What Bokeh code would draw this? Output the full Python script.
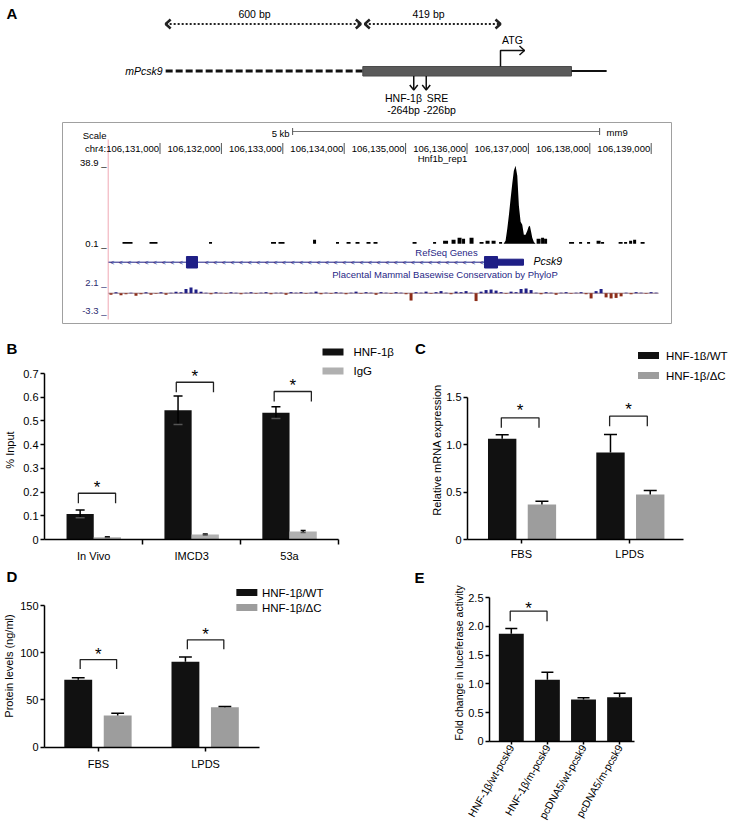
import math
from bokeh.plotting import figure
from bokeh.layouts import column, row
from bokeh.models import Range1d, FixedTicker
from bokeh.core.properties import value
from bokeh.embed import file_html
from bokeh.resources import INLINE

SANS = "Liberation Sans"
NAVY = "#1f1f86"

# ===================== DATA =====================
# Panel A - promoter schematic (bp relative to ATG)
seg_bp = [600, 419]
seg_text = ["600 bp", "419 bp"]
site_name = ["HNF-1β", "SRE"]
site_bp = [-264, -226]
site_text = ["-264bp", "-226bp"]
exon_end_bp = 216
tail_end_bp = 323

# Panel A - UCSC browser, chr4 (mm9)
coord_ticks = [106131000, 106132000, 106133000, 106134000, 106135000,
               106136000, 106137000, 106138000, 106139000]
scale_end = 106138160
scale_kb = 5
chip_axis = [38.9, 0.1]
cons_axis = [2.1, -3.3]
chip_pos = [106136596, 106136628, 106136656, 106136685, 106136710, 106136737,
            106136763, 106136791, 106136819, 106136845, 106136873, 106136900,
            106136926, 106136954, 106136982, 106137003, 106137024, 106137044,
            106137063, 106137089, 106137117]
chip_val = [0.1, 1.5, 7.2, 14.4, 21.5, 28.6, 34.8, 37.2, 32.4, 18.2, 10.6, 9.1,
            4.4, 4.4, 6.3, 8.2, 8.7, 5.8, 3.0, 1.0, 0.1]
blip_pos = [106130471, 106130894, 106131823, 106132849, 106132979, 106133517,
            106133891, 106134071, 106134217, 106134396, 106134510, 106135146,
            106135472, 106135651, 106135781, 106135879, 106135944, 106136074,
            106136237, 106136335, 106136433, 106136547, 106137166, 106137231,
            106137280, 106137703, 106137850, 106137980, 106138143, 106138208,
            106138502, 106138583, 106138665, 106138730, 106138860]
blip_w = [163, 130, 49, 81, 98, 49, 49, 65, 65, 65, 65, 65, 49, 81, 65, 65, 49,
          65, 65, 65, 65, 49, 65, 49, 49, 81, 49, 49, 65, 49, 65, 49, 49, 49, 65]
blip_val = [1.0, 1.0, 1.0, 1.0, 1.0, 2.0, 1.0, 1.0, 1.0, 1.0, 1.0, 1.0, 1.0, 1.5,
            2.0, 3.0, 2.5, 3.0, 1.0, 1.5, 1.5, 1.0, 2.5, 3.0, 2.5, 1.0, 1.0, 1.0,
            1.5, 1.0, 1.0, 1.0, 1.5, 2.0, 1.0]
gene_start = 106130161
exon_start = [106131431, 106136285]
exon_end = [106131611, 106136497]
utr5 = [106136497, 106136920]
cons_start = 106130161
cons_bin = 81.45
cons_val = [-0.3, 0.2, -0.4, -0.2, 0.1, -0.5, -0.2, 0.2, -0.3, -0.1, 0.2, -0.3, 0.1, 0.3, 0.2,
            0.8, 1.1, 0.7,
            0.3, 0.1, -0.2, 0.2, 0.1, -0.1, 0.2, 0.1, -0.2, 0.1, 0.2, -0.1, 0.1, 0.2, -0.2, 0.1,
            0.1, -0.3, 0.2, 0.1,
            0.2, -0.1, 0.1, 0.3, -0.2, 0.1, -0.1, 0.2, 0.1, -0.2, 0.1, 0.3, -0.1, 0.2, 0.1,
            -0.3, 0.2, 0.1, -0.1, 0.2, 0.1, -0.2,
            -1.4,
            0.2, 0.1, 0.3, -0.1, 0.2, 0.4, 0.1, -0.2, 0.3, 0.2, 0.4, 0.1,
            -1.5,
            0.3, 0.6, 0.7, 0.5,
            0.2, -0.1, 0.3, 0.2,
            0.8, 0.9, 0.6,
            0.1, -0.2, 0.2, 0.1, -0.3, 0.1, 0.2, -0.1, 0.1, 0.2, -0.2,
            -1.0,
            0.4, 0.8,
            -0.8, -1.0, -0.9, -0.6,
            0.1, -0.2, 0.2, 0.1, -0.1, 0.2, 0.1]

# Panel B - ChIP (% input)
B_groups = ["In Vivo", "IMCD3", "53a"]
B_hnf = [0.108, 0.545, 0.535]
B_hnf_err = [0.016, 0.060, 0.025]
B_igg = [0.010, 0.021, 0.034]
B_igg_err = [0.002, 0.002, 0.004]
B_sig_y = [0.195, 0.663, 0.624]
B_yticks = [0, 0.1, 0.2, 0.3, 0.4, 0.5, 0.6, 0.7]
B_ylabels = ["0", "0.1", "0.2", "0.3", "0.4", "0.5", "0.6", "0.7"]
B_series = ["HNF-1β", "IgG"]

# Panel C - relative mRNA
C_groups = ["FBS", "LPDS"]
C_wt = [1.061, 0.917]
C_wt_err = [0.042, 0.190]
C_dc = [0.369, 0.474]
C_dc_err = [0.035, 0.042]
C_sig_y = [1.283, 1.300]
C_yticks = [0, 0.5, 1.0, 1.5]
C_ylabels = ["0", "0.5", "1.0", "1.5"]
series_wt_dc = ["HNF-1β/WT", "HNF-1β/ΔC"]

# Panel D - protein levels
D_groups = ["FBS", "LPDS"]
D_wt = [71.4, 90.4]
D_wt_err = [2.0, 5.0]
D_dc = [33.6, 42.4]
D_dc_err = [2.4, 0.8]
D_sig_y = [92.8, 113.7]
D_yticks = [0, 50, 100, 150]
D_ylabels = ["0", "50", "100", "150"]

# Panel E - luciferase
E_groups = ["HNF-1β/wt-pcsk9", "HNF-1β/m-pcsk9", "pcDNA5/wt-pcsk9", "pcDNA5/m-pcsk9"]
E_val = [1.873, 1.071, 0.727, 0.767]
E_err = [0.09, 0.13, 0.03, 0.07]
E_sig_pair = [0, 1]
E_sig_y = 2.266
E_yticks = [0, 0.5, 1.0, 1.5, 2.0, 2.5]
E_ylabels = ["0", "0.5", "1.0", "1.5", "2.0", "2.5"]

BLACK = "#111111"
GRAY_B = "#b0b0b0"
GRAY = "#9d9d9d"


# ===================== helpers =====================
def rng(p1, v1, p2, v2, lo, hi):
    k = (p2 - p1) / (v2 - v1)
    return Range1d(start=v1 + (lo - p1) / k, end=v1 + (hi - p1) / k)


class Map:
    def __init__(self, f0, f1, a, pa, b, pb):
        self.k = (pb - pa) / (b - a)
        self.a, self.pa = a, pa
        self.lo, self.hi = self.v(f0), self.v(f1)

    def v(self, px):
        return self.a + (px - self.pa) / self.k

    def d(self, dpx):
        return dpx / abs(self.k)


def txt(p, xs, ys, texts, size, font=SANS, color="black", align="center",
        baseline="middle", style="normal", **kw):
    p.text(x=xs, y=ys, text=texts, text_font=value(font), text_font_size=value(size),
           text_color=color, text_align=align, text_baseline=baseline,
           text_font_style=value(style), **kw)


def legend(p, x_sw, x_lab, ys, colors, labels, size="11.5px"):
    p.rect(x=[x_sw] * len(ys), y=ys, width=21, height=7, width_units="screen",
           height_units="screen", fill_color=colors, line_color=None)
    txt(p, [x_lab] * len(ys), ys, labels, size, align="left")


def canvas_fig(x0, x1, y0, y1):
    p = figure(width=x1 - x0, height=y1 - y0, x_range=Range1d(x0, x1),
               y_range=Range1d(y1, y0), x_axis_type=None, y_axis_type=None,
               toolbar_location=None, output_backend="svg", min_border=0)
    p.outline_line_color = None
    return p


# ===================== PANEL A (plus top strip of B/C) =====================
W = 731
H_A = 360
pA = canvas_fig(0, W, 0, H_A)
BP_K = 0.3286
BP0 = 500
pA.extra_x_ranges = {
    "bp": rng(BP0, 0, BP0 - BP_K * 1000, -1000, 0, W),
    "g": rng(159.5, coord_ticks[0], 159.5 + 61.4, coord_ticks[1], 0, W),
}
pA.extra_y_ranges = {
    "chip": rng(243.3, chip_axis[1], 161.7, chip_axis[0], H_A, 0),
    "cons": rng(281.7, cons_axis[0], 310.0, cons_axis[1], H_A, 0),
}


def bpx(bp):
    return BP0 + BP_K * bp


txt(pA, [11.5], [12.5], ["A"], "15px", style="bold")

a0 = -(seg_bp[0] + seg_bp[1])
a1 = -seg_bp[1]
a2 = 0
gap = 2 / BP_K
ARW_Y = 23.5
arrow_spans = [(a0, a1 - gap), (a1 + gap, a2)]
pA.multi_line(xs=[[s, e] for s, e in arrow_spans], ys=[[ARW_Y, ARW_Y]] * 2, x_range_name="bp",
              line_width=2, line_dash="2 2", line_color="#222222")
heads_x, heads_y = [], []
for s, e in arrow_spans:
    xs_, xe_ = bpx(s), bpx(e)
    heads_x += [[xs_ + 5, xs_, xs_ + 5], [xe_ - 5, xe_, xe_ - 5]]
    heads_y += [[ARW_Y - 4.5, ARW_Y, ARW_Y + 4.5]] * 2
pA.multi_line(xs=heads_x, ys=heads_y, line_width=2.5, line_color="#222222")
txt(pA, [254, 428], [13, 13], seg_text, "10.5px")

GY = 70.5
pA.line(x=[a0, a1], y=[GY, GY], x_range_name="bp", line_width=3,
        line_dash="7 3", line_color="#111111")
pA.quad(left=[a1], right=[exon_end_bp], top=[66], bottom=[75.5], x_range_name="bp",
        fill_color="#5a5a5a", line_color="#4a4a4a")
pA.line(x=[exon_end_bp, tail_end_bp], y=[GY, GY], x_range_name="bp",
        line_width=2, line_color="#111111")
atg = bpx(0)
pA.line(x=[atg, atg, atg + 24], y=[66, 50, 50], line_width=1.5, line_color="#111111")
pA.line(x=[atg + 19, atg + 24, atg + 19], y=[45.5, 50, 54.5], line_width=1.5,
        line_color="#111111")
txt(pA, [512], [39], ["ATG"], "10.5px")
txt(pA, [162], [GY], ["mPcsk9"], "10.5px", align="right", style="italic")
sx = [bpx(s) for s in site_bp]
pA.segment(x0=sx, y0=[75.5] * 2, x1=sx, y1=[89.5] * 2, line_width=1.5, line_color="#111111")
pA.multi_line(xs=[[x - 4, x, x + 4] for x in sx], ys=[[84.5, 89.5, 84.5]] * 2,
              line_width=1.5, line_color="#111111")
txt(pA, [403, 437], [97, 97], site_name, "10.5px")
txt(pA, [403, 439], [109, 109], site_text, "10.5px")

pA.quad(left=[62], right=[671], top=[122], bottom=[323], fill_color=None,
        line_color="#a0a0a0", line_width=1)
pA.segment(x0=[107.7], y0=[139], x1=[107.7], y1=[319], line_color="#f0a8b4", line_width=1)
txt(pA, [106], [135], ["Scale"], "9.5px", align="right")
sb0 = scale_end - scale_kb * 1000
pA.segment(x0=[sb0], y0=[131], x1=[scale_end], y1=[131], x_range_name="g",
           line_color="#777777", line_width=1)
pA.segment(x0=[sb0, scale_end], y0=[127.5, 127.5], x1=[sb0, scale_end], y1=[134.5, 134.5],
           x_range_name="g", line_color="#555555", line_width=1)
txt(pA, [sb0], [132.5], [f"{scale_kb} kb"], "9.5px", align="right", x_range_name="g", x_offset=-3)
txt(pA, [scale_end], [131.5], ["mm9"], "9.5px", align="left", x_range_name="g", x_offset=7)
coord_text = ["chr4:" + f"{coord_ticks[0]:,}"] + [f"{t:,}" for t in coord_ticks[1:]]
txt(pA, coord_ticks, [148] * len(coord_ticks), coord_text, "9.5px", align="right",
    x_range_name="g", x_offset=-1)
pA.segment(x0=coord_ticks, y0=[142.5] * 9, x1=coord_ticks, y1=[153.5] * 9,
           x_range_name="g", line_color="#555555", line_width=1)
txt(pA, [106, 106], chip_axis, [f"{v} _" for v in chip_axis], "9.5px", align="right",
    baseline="alphabetic", y_range_name="chip")
txt(pA, [106, 106], cons_axis, [f"{v} _" for v in cons_axis], "9.5px", align="right",
    baseline="alphabetic", y_range_name="cons", color="#2c2c70")
txt(pA, [442], [158], ["Hnf1b_rep1"], "9.5px")

pA.varea(x=chip_pos, y1=[chip_axis[1]] * len(chip_pos), y2=chip_val, x_range_name="g",
         y_range_name="chip", fill_color="black")
pA.vbar(x=blip_pos, width=blip_w, top=blip_val, bottom=chip_axis[1], x_range_name="g",
        y_range_name="chip", fill_color="black", line_color=None)

txt(pA, [446], [252], ["RefSeq Genes"], "9.5px", color=NAVY)
pA.line(x=[gene_start, exon_start[1]], y=[261.7, 261.7], x_range_name="g",
        line_color=NAVY, line_width=1)
chev = [c for c in range(gene_start + 60, exon_start[1] - 40, 140)
        if not (exon_start[0] - 40 < c < exon_end[0] + 40)]
txt(pA, chev, [261.7] * len(chev), ["<"] * len(chev), "7px", color=NAVY, x_range_name="g")
pA.quad(left=exon_start, right=exon_end, top=[256, 256], bottom=[267.5, 267.5],
        x_range_name="g", fill_color=NAVY, line_color=NAVY)
pA.quad(left=[utr5[0]], right=[utr5[1]], top=[258.7], bottom=[264.7],
        x_range_name="g", fill_color=NAVY, line_color=NAVY)
txt(pA, [533], [260.5], ["Pcsk9"], "10.5px", align="left", style="italic")

txt(pA, [444.5], [274], ["Placental Mammal Basewise Conservation by PhyloP"], "9.5px",
    color=NAVY)
cons_pos = [cons_start + cons_bin * (i + 0.5) for i in range(len(cons_val))]
cons_col = [NAVY if v >= 0 else "#8c2d19" for v in cons_val]
pA.line(x=[cons_start, cons_start + cons_bin * len(cons_val)], y=[0, 0], x_range_name="g",
        y_range_name="cons", line_color="#7b5a6a", line_width=0.8)
pA.vbar(x=cons_pos, width=cons_bin * 0.6, top=cons_val, bottom=0, x_range_name="g",
        y_range_name="cons", fill_color=cons_col, line_color=None)

txt(pA, [11.5, 420], [348, 348], ["B", "C"], "15px", style="bold")
legend(pA, 332.5, 353, [351.5], [BLACK], [B_series[0]])
legend(pA, 648, 665.5, [355], [BLACK], [series_wt_dc[0]])


# ===================== bar panels =====================
def bar_fig(width, height, mbl, mbb, xm, ym):
    p = figure(width=width, height=height, x_range=Range1d(xm.lo, xm.hi),
               y_range=Range1d(ym.lo, ym.hi), toolbar_location=None, output_backend="svg",
               min_border_left=mbl, min_border_right=0, min_border_top=0,
               min_border_bottom=mbb)
    p.outline_line_color = None
    p.grid.visible = False
    for ax in (p.xaxis[0], p.yaxis[0]):
        ax.axis_line_width = 1.5
        ax.axis_line_color = "black"
        ax.major_tick_line_width = 1.5
        ax.major_tick_line_color = "black"
        ax.major_tick_in = 0
        ax.major_tick_out = 4
        ax.minor_tick_line_color = None
        ax.major_label_text_font = SANS
        ax.major_label_text_font_size = "11px"
        ax.major_label_text_color = "black"
        ax.axis_label_text_font = SANS
        ax.axis_label_text_font_size = "11px"
        ax.axis_label_text_font_style = "normal"
        ax.axis_label_text_color = "black"
    p.yaxis[0].major_label_standoff = 2
    return p


def yaxis_setup(p, ticks, labels, title, standoff=2):
    ax = p.yaxis[0]
    ax.ticker = FixedTicker(ticks=ticks)
    ax.major_label_overrides = dict(zip(ticks, labels))
    ax.bounds = (ticks[0], ticks[-1])
    ax.axis_label = title
    ax.axis_label_standoff = standoff


def errbars(p, xm, xs, vals, errs, cap_px, both=False):
    lo = [v - e if both else v for v, e in zip(vals, errs)]
    hi = [v + e for v, e in zip(vals, errs)]
    p.segment(x0=xs, y0=lo, x1=xs, y1=hi, line_color="black", line_width=1.5)
    hw = xm.d(cap_px / 2)
    p.segment(x0=[x - hw for x in xs], y0=hi, x1=[x + hw for x in xs], y1=hi,
              line_color="black", line_width=1.5)
    if both:
        p.segment(x0=[x - hw for x in xs], y0=lo, x1=[x + hw for x in xs], y1=lo,
                  line_color="#555555", line_width=1.5)


def brackets(p, lefts, rights, ys, drop, star_gap):
    xs = [[l, l, r, r] for l, r in zip(lefts, rights)]
    yy = [[y - drop, y, y, y - drop] for y in ys]
    p.multi_line(xs=xs, ys=yy, line_color="#222222", line_width=1.3)
    txt(p, [(l + r) / 2 for l, r in zip(lefts, rights)], [y + star_gap for y in ys],
        ["*"] * len(ys), "17px", y_offset=4)


# ----- B -----
R2_TOP, R2_BOT = H_A, 565
bx = Map(44, 400, 0, 44.3, 3, 338)
by = Map(539, R2_TOP, 0, 539, 0.7, 373)
pB = bar_fig(400, R2_BOT - R2_TOP, 44, 26, bx, by)
Bc = [i + 0.5 for i in range(len(B_groups))]
pB.vbar(x=[c - 0.139 for c in Bc], width=0.278, top=B_hnf, fill_color=BLACK, line_color=None)
pB.vbar(x=[c + 0.139 for c in Bc], width=0.278, top=B_igg, fill_color=GRAY_B, line_color=None)
errbars(pB, bx, [c - 0.139 for c in Bc], B_hnf, B_hnf_err, 9, both=True)
errbars(pB, bx, [c + 0.139 for c in Bc], B_igg, B_igg_err, 5, both=True)
yaxis_setup(pB, B_yticks, B_ylabels, "% Input", 4)
xa = pB.xaxis[0]
xa.ticker = FixedTicker(ticks=Bc, minor_ticks=[1, 2, 3])
xa.major_label_overrides = dict(zip(Bc, B_groups))
xa.major_tick_out = 0
xa.minor_tick_line_color = "black"
xa.minor_tick_line_width = 1.5
xa.minor_tick_in = 0
xa.minor_tick_out = 5
xa.major_label_standoff = 5
xa.bounds = (0, len(B_groups))
brackets(pB, [c - 0.157 for c in Bc], [c + 0.223 for c in Bc], B_sig_y, by.d(10), by.d(10))
legend(pB, bx.v(332.5), bx.v(353), [by.v(370.5)], [GRAY_B], [B_series[1]])

# ----- C -----
cx = Map(467, 731, 0, 466.7, 2, 683.3)
cy = Map(539, R2_TOP, 0, 539, 1.5, 396.7)
pC = bar_fig(331, R2_BOT - R2_TOP, 67, 26, cx, cy)
Cc = [i + 0.5 for i in range(len(C_groups))]
pC.vbar(x=[c - 0.177 for c in Cc], width=0.262, top=C_wt, fill_color=BLACK, line_color=None)
pC.vbar(x=[c + 0.19 for c in Cc], width=0.262, top=C_dc, fill_color=GRAY, line_color=None)
errbars(pC, cx, [c - 0.177 for c in Cc], C_wt, C_wt_err, 13)
errbars(pC, cx, [c + 0.19 for c in Cc], C_dc, C_dc_err, 13)
yaxis_setup(pC, C_yticks, C_ylabels, "Relative mRNA expression", 0)
xa = pC.xaxis[0]
xa.ticker = FixedTicker(ticks=Cc)
xa.major_label_overrides = dict(zip(Cc, C_groups))
xa.major_label_standoff = 4
xa.bounds = (0, len(C_groups))
brackets(pC, [c - 0.185 for c in Cc], [c + 0.163 for c in Cc], C_sig_y, cy.d(10), cy.d(11))
legend(pC, cx.v(648), cx.v(665.5), [cy.v(375)], [GRAY], [series_wt_dc[1]])

# ----- full-width strip with panel letters D / E -----
R3_TOP, S_BOT, R3_BOT = 565, 584, 829
pS = canvas_fig(0, W, R3_TOP, S_BOT)
txt(pS, [11.5, 419], [576, 577], ["D", "E"], "15px", style="bold")

# ----- D -----
FBD = 747
dx = Map(39, 400, 0, 39.3, 2, 256.7)
dy = Map(FBD, S_BOT, 0, 746.7, 150, 605)
pD = bar_fig(400, R3_BOT - S_BOT, 39, R3_BOT - FBD, dx, dy)
Dc = [i + 0.5 for i in range(len(D_groups))]
pD.vbar(x=[c - 0.188 for c in Dc], width=0.26, top=D_wt, fill_color=BLACK, line_color=None)
pD.vbar(x=[c + 0.18 for c in Dc], width=0.26, top=D_dc, fill_color=GRAY, line_color=None)
errbars(pD, dx, [c - 0.188 for c in Dc], D_wt, D_wt_err, 13)
errbars(pD, dx, [c + 0.18 for c in Dc], D_dc, D_dc_err, 13)
yaxis_setup(pD, D_yticks, D_ylabels, "Protein levels (ng/ml)", 2)
xa = pD.xaxis[0]
xa.ticker = FixedTicker(ticks=Dc)
xa.major_label_overrides = dict(zip(Dc, D_groups))
xa.major_label_standoff = 6
xa.bounds = (0, len(D_groups))
brackets(pD, [c - 0.17 for c in Dc], [c + 0.17 for c in Dc], D_sig_y, dy.d(9.5), dy.d(9.5))
legend(pD, dx.v(244.2), dx.v(259.5), [dy.v(592), dy.v(607)], [BLACK, GRAY], series_wt_dc)

# ----- E -----
FBE = 741
ex = Map(489, 731, 0, 510.8, 3, 619.1)
ey = Map(FBE, S_BOT, 0, 740.7, 2.5, 597.3)
pE = bar_fig(331, R3_BOT - S_BOT, 89, R3_BOT - FBE, ex, ey)
Ec = list(range(len(E_groups)))
pE.vbar(x=Ec, width=0.69, top=E_val, fill_color=BLACK, line_color=None)
errbars(pE, ex, Ec, E_val, E_err, 12)
yaxis_setup(pE, E_yticks, E_ylabels, "Fold change in luceferase activity", 0)
pE.yaxis[0].axis_label_text_font_size = "10.5px"
xa = pE.xaxis[0]
xa.ticker = FixedTicker(ticks=Ec)
xa.major_label_overrides = dict(zip(Ec, E_groups))
xa.major_label_orientation = math.pi / 3
xa.major_label_text_font_size = "10.5px"
xa.major_tick_out = 3
xa.major_label_standoff = 1
xa.bounds = (ex.v(489), ex.v(634.3))
brackets(pE, [E_sig_pair[0] - 0.03], [E_sig_pair[1] - 0.01], [E_sig_y], ey.d(10), ey.d(7))

layout = column(pA, row(pB, pC), pS, row(column(pD), column(pE)))
open("out.html", "w").write(file_html(layout, INLINE))
